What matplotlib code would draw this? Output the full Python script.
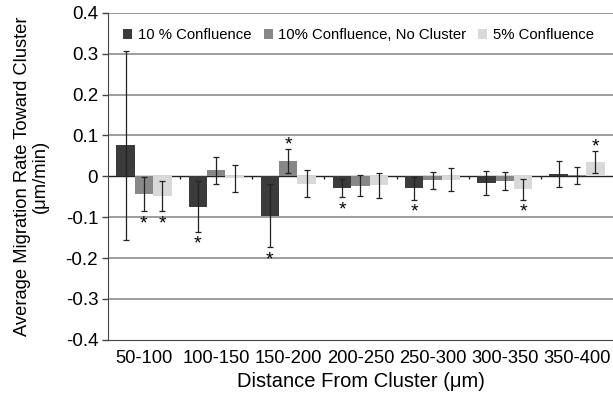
import numpy as np
import matplotlib.pyplot as plt

plt.rcParams['font.family'] = ['Liberation Sans', 'DejaVu Sans']

categories = ["50-100", "100-150", "150-200", "200-250", "250-300", "300-350", "350-400"]
series_names = ["10 % Confluence", "10% Confluence, No Cluster", "5% Confluence"]

conf10 = [0.076, -0.074, -0.096, -0.029, -0.029, -0.016, 0.006]
conf10_err = [0.231, 0.062, 0.077, 0.022, 0.028, 0.029, 0.032]
nocluster = [-0.043, 0.015, 0.037, -0.023, -0.010, -0.011, 0.002]
nocluster_err = [0.042, 0.033, 0.029, 0.025, 0.020, 0.022, 0.020]
conf5 = [-0.049, -0.005, -0.018, -0.022, -0.008, -0.032, 0.034]
conf5_err = [0.037, 0.033, 0.033, 0.030, 0.028, 0.025, 0.027]

# significance: -1 star below, +1 star above, 0 none
conf10_sig = [0, -1, -1, -1, -1, 0, 0]
nocluster_sig = [-1, 0, 1, 0, 0, 0, 0]
conf5_sig = [-1, 0, 0, 0, 0, -1, 1]

colors = ["#3b3b3b", "#878787", "#d9d9d9"]

fig = plt.figure(figsize=(6.13, 3.98), dpi=100)
ax = fig.add_axes([0.176, 0.146, 0.824, 0.822])

x = np.arange(len(categories))
w = 0.255
all_means = [conf10, nocluster, conf5]
all_errs = [conf10_err, nocluster_err, conf5_err]
all_sig = [conf10_sig, nocluster_sig, conf5_sig]

for i in [-0.1, -0.2, -0.3, 0.1, 0.2, 0.3, 0.4]:
    ax.axhline(i, color="#828282", lw=1.1, zorder=0)

for k in range(3):
    xs = x + (k - 1) * w
    ax.bar(xs, all_means[k], w, color=colors[k], label=series_names[k], zorder=2)
    ax.errorbar(xs, all_means[k], yerr=all_errs[k], fmt="none", ecolor="#222222",
                elinewidth=0.9, capsize=2.5, capthick=0.9, zorder=3)
    for j in range(len(categories)):
        s = all_sig[k][j]
        if s < 0:
            yy = all_means[k][j] - all_errs[k][j]
            ax.annotate("*", (xs[j], yy), xytext=(0, -9), textcoords="offset points",
                        ha="center", va="center", fontsize=14, zorder=4)
        elif s > 0:
            yy = all_means[k][j] + all_errs[k][j]
            ax.annotate("*", (xs[j], yy), xytext=(0, 3), textcoords="offset points",
                        ha="center", va="center", fontsize=14, zorder=4)

ax.axhline(0, color="#222222", lw=1.0, zorder=1)
ax.vlines(x[1:] - 0.5, -0.006, 0, color="#222222", lw=1.0, zorder=1)

ax.set_xlim(-0.5, len(categories) - 0.5)
ax.set_ylim(-0.4, 0.4)
ax.set_yticks([-0.4, -0.3, -0.2, -0.1, 0, 0.1, 0.2, 0.3, 0.4])
ax.set_yticklabels(["-0.4", "-0.3", "-0.2", "-0.1", "0", "0.1", "0.2", "0.3", "0.4"], fontsize=13.5)
ax.set_xticks(x)
ax.set_xticklabels(categories, fontsize=13.2)
ax.tick_params(axis="x", length=0, pad=7)
ax.tick_params(axis="y", length=4, width=1, color="#444444", pad=3)

for sp in ["top", "right"]:
    ax.spines[sp].set_visible(False)
ax.spines["left"].set_color("#444444")
ax.spines["bottom"].set_color("#444444")

ax.set_xlabel("Distance From Cluster (\u03bcm)", fontsize=14.5, labelpad=4)
ax.set_ylabel("Average Migration Rate Toward Cluster\n(\u03bcm/min)", fontsize=13.2,
              labelpad=12, multialignment="center", linespacing=1.05)

ax.legend(loc="upper left", bbox_to_anchor=(0.01, 0.985), ncol=3, frameon=False, fontsize=10.7,
          handlelength=0.6, handleheight=0.6, handletextpad=0.4, columnspacing=0.8,
          borderaxespad=0.3)

fig.savefig("out.png", dpi=100)
